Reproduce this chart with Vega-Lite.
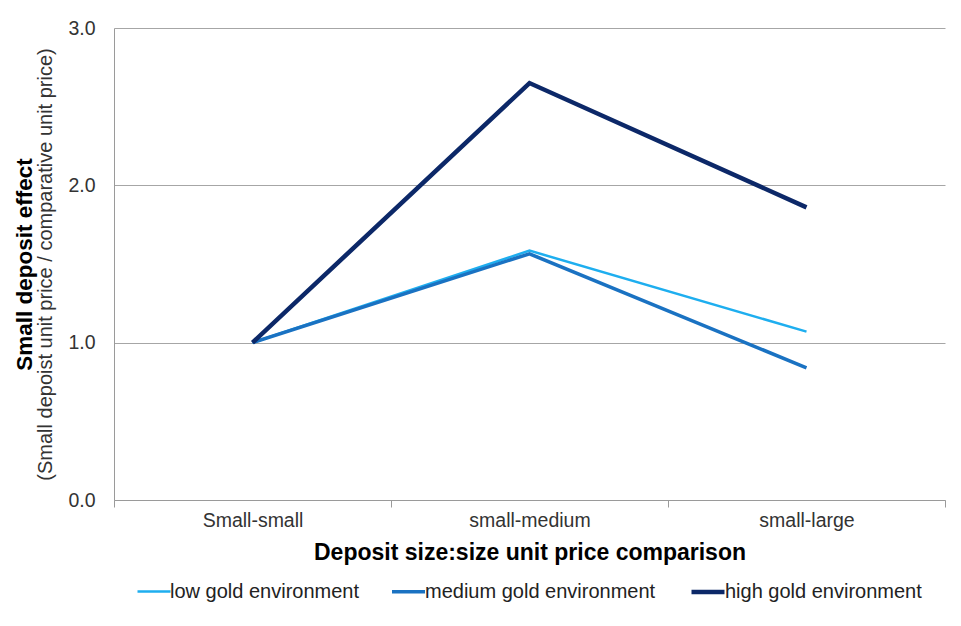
{
  "$schema": "https://vega.github.io/schema/vega-lite/v6.json",
  "autosize": "none",
  "width": 831,
  "height": 472,
  "padding": {"left": 114, "top": 28, "right": 16, "bottom": 126},
  "background": "white",
  "config": {
    "font": "Liberation Sans",
    "view": {"stroke": null}
  },
  "data": {
    "values": [
      {"comparison": "Small-small", "env": "low gold environment", "effect": 1.0},
      {"comparison": "small-medium", "env": "low gold environment", "effect": 1.585},
      {"comparison": "small-large", "env": "low gold environment", "effect": 1.07},
      {"comparison": "Small-small", "env": "medium gold environment", "effect": 1.0},
      {"comparison": "small-medium", "env": "medium gold environment", "effect": 1.565},
      {"comparison": "small-large", "env": "medium gold environment", "effect": 0.84},
      {"comparison": "Small-small", "env": "high gold environment", "effect": 1.0},
      {"comparison": "small-medium", "env": "high gold environment", "effect": 2.65},
      {"comparison": "small-large", "env": "high gold environment", "effect": 1.86}
    ]
  },
  "resolve": {"axis": {"y": "independent"}},
  "layer": [
    {
      "mark": {"type": "line", "strokeJoin": "miter"},
      "encoding": {
        "x": {
          "field": "comparison",
          "type": "nominal",
          "sort": ["Small-small", "small-medium", "small-large"],
          "scale": {"paddingInner": 0, "paddingOuter": 0},
          "axis": {
            "title": "Deposit size:size unit price comparison",
            "titleFontSize": 23,
            "titleFontWeight": "bold",
            "titleColor": "#000000",
            "titlePadding": 12,
            "labelAngle": 0,
            "labelFontSize": 19.5,
            "labelColor": "#333333",
            "labelPadding": 4,
            "tickBand": "extent",
            "tickSize": 7,
            "tickColor": "#9a9a9a",
            "domainColor": "#9a9a9a",
            "grid": false
          }
        },
        "y": {
          "field": "effect",
          "type": "quantitative",
          "scale": {"domain": [0, 3], "nice": false, "zero": true},
          "axis": {
            "orient": "left",
            "title": "(Small depoist unit price / comparative unit price)",
            "titleFontSize": 20,
            "titleFontWeight": "normal",
            "titleColor": "#333333",
            "titlePadding": 12,
            "values": [0, 1, 2, 3],
            "format": ".1f",
            "labelFontSize": 19.5,
            "labelColor": "#333333",
            "labelPadding": 19,
            "ticks": false,
            "domainColor": "#9a9a9a",
            "grid": true,
            "gridColor": "#a6a6a6"
          }
        },
        "color": {
          "field": "env",
          "type": "nominal",
          "scale": {
            "domain": ["low gold environment", "medium gold environment", "high gold environment"],
            "range": ["#1eaeef", "#1a72c2", "#0c2868"]
          },
          "legend": {
            "title": null,
            "orient": "none",
            "direction": "horizontal",
            "legendX": 22,
            "legendY": 545,
            "symbolType": "stroke",
            "symbolSize": 1089,
            "labelFontSize": 20,
            "labelColor": "#222222",
            "labelOffset": -2,
            "columnPadding": 26,
            "labelLimit": 400
          }
        },
        "strokeWidth": {
          "field": "env",
          "type": "nominal",
          "scale": {
            "domain": ["low gold environment", "medium gold environment", "high gold environment"],
            "range": [2.5, 4.5, 5]
          },
          "legend": null
        }
      }
    },
    {
      "mark": {"type": "line", "opacity": 0},
      "encoding": {
        "x": {
          "field": "comparison",
          "type": "nominal",
          "sort": ["Small-small", "small-medium", "small-large"]
        },
        "y": {
          "field": "effect",
          "type": "quantitative",
          "axis": {
            "orient": "left",
            "title": "Small deposit effect",
            "titleFontSize": 22.5,
            "titleFontWeight": "bold",
            "titleColor": "#000000",
            "titlePadding": 78,
            "labels": false,
            "ticks": false,
            "domain": false,
            "grid": false
          }
        },
        "detail": {"field": "env", "type": "nominal"}
      }
    }
  ]
}
